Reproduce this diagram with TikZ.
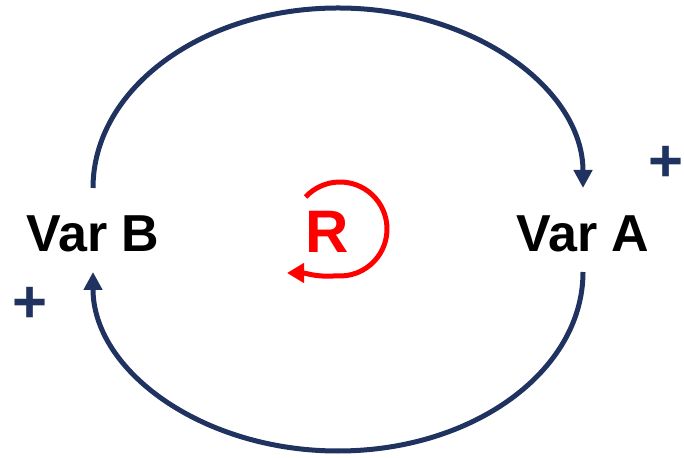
\documentclass[tikz,border=0pt]{standalone}
\usepackage{fontspec}
\setmainfont{Liberation Sans}
\usetikzlibrary{arrows.meta,calc}
\definecolor{navy}{RGB}{31,50,96}
\definecolor{loopred}{RGB}{255,0,0}
\tikzset{
  varlabel/.style={font=\fontsize{52}{52}\selectfont\bfseries, inner sep=0pt, anchor=base},
  pluslabel/.style={font=\fontsize{60}{60}\selectfont\bfseries, text=navy, inner sep=0pt},
  link/.style={draw=navy, line width=5pt, -{Triangle[width=18pt,length=18pt]}},
  loopsign/.style={font=\fontsize{60}{60}\selectfont\bfseries, text=loopred, inner sep=0pt, anchor=base},
  looparrow/.style={draw=loopred, line width=5pt, -{Triangle[width=19pt,length=17pt]}}
}
\begin{document}
\begin{tikzpicture}[x=1pt,y=1pt]
\useasboundingbox (0,0) rectangle (684,457);
\node[varlabel] (varB) at (93,205) {Var B};
\node[varlabel] (varA) at (583,205) {Var A};
\node[pluslabel] (plusA) at (666,293) {+};
\node[pluslabel] (plusB) at (30,152) {+};
\node[loopsign] (R) at (327,204) {R};
\coordinate (loopc) at (340,228);
\coordinate (looptip) at (287,184);
\draw[link] ($(varB.base)+(0,64)$) arc[start angle=180, end angle=0, x radius=245, y radius=180];
\draw[link] ($(varA.base)+(0,-20)$) arc[start angle=0, end angle=-180, x radius=245, y radius=179];
\draw[looparrow] ($(loopc)+(137:47)$) arc[start angle=137, end angle=-95, radius=47] to[out=185,in=0] (looptip);
\end{tikzpicture}
\end{document}
